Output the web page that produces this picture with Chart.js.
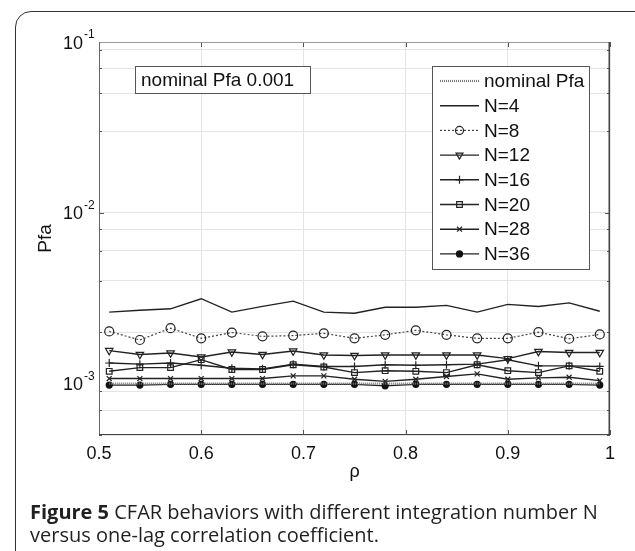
<!DOCTYPE html>
<html>
<head>
<meta charset="utf-8">
<script src="https://cdn.jsdelivr.net/npm/chart.js@4.4.1/dist/chart.umd.min.js"></script>
<style>
  html, body { margin: 0; padding: 0; background: #fff; }
  body { width: 635px; height: 551px; position: relative; overflow: hidden; }
  #frame { position: absolute; left: 15px; top: 11px; width: 700px; height: 600px;
           border: 1.5px solid #333; border-radius: 16px; }
  #wrap { position: absolute; left: 0; top: 0; width: 635px; height: 500px; }
  #caption { position: absolute; left: 30px; top: 500px; font-family: "Open Sans", Lato, sans-serif;
             font-size: 20px; line-height: 23px; color: #231f20; white-space: nowrap; }
  #caption b { font-weight: bold; }
</style>
</head>
<body>
<div id="frame"></div>
<div id="wrap"><canvas id="line-chart"></canvas></div>
<div id="caption"><b>Figure 5</b> CFAR behaviors with different integration number N<br>versus one-lag correlation coefficient.</div>
<script>
// x values (rho) and Pfa per integration number N
const rho = [0.51, 0.54, 0.57, 0.60, 0.63, 0.66, 0.69, 0.72, 0.75, 0.78, 0.81, 0.84, 0.87, 0.90, 0.93, 0.96, 0.99];
const nominal = [1e-3, 1e-3, 1e-3, 1e-3, 1e-3, 1e-3, 1e-3, 1e-3, 1e-3, 1e-3, 1e-3, 1e-3, 1e-3, 1e-3, 1e-3, 1e-3, 1e-3];
const pfaN4  = [2.62e-3, 2.69e-3, 2.74e-3, 3.14e-3, 2.62e-3, 2.83e-3, 3.04e-3, 2.62e-3, 2.58e-3, 2.80e-3, 2.80e-3, 2.87e-3, 2.62e-3, 2.91e-3, 2.83e-3, 2.97e-3, 2.65e-3];
const pfaN8  = [2.02e-3, 1.80e-3, 2.11e-3, 1.84e-3, 1.99e-3, 1.89e-3, 1.91e-3, 1.97e-3, 1.84e-3, 1.93e-3, 2.05e-3, 1.93e-3, 1.84e-3, 1.84e-3, 2.00e-3, 1.83e-3, 1.94e-3];
const pfaN12 = [1.56e-3, 1.48e-3, 1.51e-3, 1.43e-3, 1.53e-3, 1.48e-3, 1.55e-3, 1.47e-3, 1.46e-3, 1.47e-3, 1.47e-3, 1.47e-3, 1.47e-3, 1.40e-3, 1.54e-3, 1.52e-3, 1.52e-3];
const pfaN16 = [1.32e-3, 1.30e-3, 1.32e-3, 1.28e-3, 1.23e-3, 1.22e-3, 1.30e-3, 1.26e-3, 1.26e-3, 1.29e-3, 1.28e-3, 1.29e-3, 1.30e-3, 1.38e-3, 1.27e-3, 1.27e-3, 1.26e-3];
const pfaN20 = [1.18e-3, 1.24e-3, 1.24e-3, 1.38e-3, 1.21e-3, 1.21e-3, 1.29e-3, 1.25e-3, 1.16e-3, 1.19e-3, 1.18e-3, 1.16e-3, 1.29e-3, 1.19e-3, 1.16e-3, 1.27e-3, 1.18e-3];
const pfaN28 = [1.07e-3, 1.07e-3, 1.07e-3, 1.07e-3, 1.07e-3, 1.07e-3, 1.11e-3, 1.11e-3, 1.06e-3, 1.03e-3, 1.06e-3, 1.10e-3, 1.14e-3, 1.06e-3, 1.08e-3, 1.09e-3, 1.04e-3];
const pfaN36 = [0.98e-3, 0.98e-3, 0.99e-3, 0.99e-3, 0.99e-3, 0.99e-3, 0.99e-3, 0.99e-3, 0.99e-3, 0.97e-3, 0.99e-3, 0.99e-3, 0.99e-3, 0.99e-3, 0.99e-3, 0.99e-3, 0.98e-3];
const seriesLabels = ["nominal Pfa", "N=4", "N=8", "N=12", "N=16", "N=20", "N=28", "N=36"];
const xTicks = [0.5, 0.6, 0.7, 0.8, 0.9, 1];
const yMajor = [1e-3, 1e-2, 1e-1];
const yMin = 5e-4, yMax = 1e-1;

const FONT = "'Liberation Sans', Arial, sans-serif";
const pts = vals => rho.map((r, i) => ({x: r, y: vals[i]}));

// minor log ticks 1..9 per decade, plus 5e-4..9e-4
const yTicks = [];
[1e-4, 1e-3, 1e-2].forEach(d => { for (let m = 1; m <= 9; m++) { const v = +(m * d).toPrecision(3); if (v >= yMin && v <= yMax) yTicks.push(v); } });
yTicks.push(1e-1);

function ds(label, vals, extra) {
  return Object.assign({
    label: label, data: pts(vals), borderColor: '#222', borderWidth: 1.4,
    pointRadius: 0, pointBorderColor: '#222', pointBackgroundColor: 'rgba(255,255,255,0)',
    pointBorderWidth: 1.2, fill: false, tension: 0
  }, extra);
}

const datasets = [
  ds(seriesLabels[0], nominal, {borderColor: '#777', borderWidth: 2.2, borderDash: [1, 1]}),
  ds(seriesLabels[1], pfaN4, {}),
  ds(seriesLabels[2], pfaN8, {borderColor: '#444', borderWidth: 1.2, borderDash: [2, 2], pointStyle: 'circle', pointRadius: 4.5}),
  ds(seriesLabels[3], pfaN12, {pointStyle: 'triangle', pointRotation: 180, pointRadius: 4.3}),
  ds(seriesLabels[4], pfaN16, {pointStyle: 'cross', pointRadius: 4}),
  ds(seriesLabels[5], pfaN20, {pointStyle: 'rect', pointRadius: 4}),
  ds(seriesLabels[6], pfaN28, {pointStyle: 'crossRot', pointRadius: 3.5}),
  ds(seriesLabels[7], pfaN36, {pointStyle: 'circle', pointRadius: 3, pointBackgroundColor: '#111', pointBorderColor: '#111'})
];

function point(ctx, d, x, y, r) {
  if (!d.pointStyle) return;
  ctx.save();
  ctx.strokeStyle = d.pointBorderColor; ctx.fillStyle = d.pointBackgroundColor;
  ctx.lineWidth = d.pointBorderWidth; ctx.setLineDash([]);
  Chart.helpers.drawPoint(ctx, {pointStyle: d.pointStyle, radius: r, rotation: d.pointRotation || 0, borderWidth: d.pointBorderWidth}, x, y);
  ctx.restore();
}

const decor = {
  id: 'decor',
  afterDatasetsDraw(chart) {
    const {ctx, chartArea: a, scales: {x, y}} = chart;
    ctx.save();
    // inner ticks
    ctx.strokeStyle = '#555'; ctx.lineWidth = 1;
    y.ticks.forEach(t => {
      const py = Math.round(y.getPixelForValue(t.value)) + 0.5;
      const len = yMajor.includes(t.value) ? 5 : 3;
      ctx.beginPath();
      ctx.moveTo(a.left, py); ctx.lineTo(a.left + len, py);
      ctx.moveTo(a.right, py); ctx.lineTo(a.right - len, py);
      ctx.stroke();
    });
    x.ticks.forEach(t => {
      const px = Math.round(x.getPixelForValue(t.value)) + 0.5;
      ctx.beginPath();
      ctx.moveTo(px, a.bottom); ctx.lineTo(px, a.bottom - 5);
      ctx.moveTo(px, a.top); ctx.lineTo(px, a.top + 5);
      ctx.stroke();
    });
    // axes box
    ctx.strokeStyle = '#999';
    ctx.beginPath(); ctx.moveTo(a.left, a.top + 0.5); ctx.lineTo(a.right, a.top + 0.5); ctx.stroke();
    ctx.strokeStyle = '#666';
    ctx.beginPath(); ctx.moveTo(a.left + 0.5, a.top); ctx.lineTo(a.left + 0.5, a.bottom); ctx.stroke();
    ctx.strokeStyle = '#444';
    ctx.beginPath(); ctx.moveTo(a.left, a.bottom - 0.5); ctx.lineTo(a.right, a.bottom - 0.5); ctx.stroke();
    ctx.lineWidth = 1.5;
    ctx.beginPath(); ctx.moveTo(a.right - 0.75, a.top); ctx.lineTo(a.right - 0.75, a.bottom); ctx.stroke();

    // y labels as 10^k
    ctx.fillStyle = '#111';
    yMajor.forEach(v => {
      const py = y.getPixelForValue(v);
      const k = Math.round(Math.log10(v));
      ctx.font = '18px ' + FONT; ctx.textAlign = 'right'; ctx.textBaseline = 'alphabetic';
      ctx.fillText('10', 83, py + 6.5);
      ctx.font = '12px ' + FONT; ctx.textAlign = 'left';
      ctx.fillText(String(k), 84, py - 4);
    });

    // annotation box
    ctx.fillStyle = '#fff'; ctx.strokeStyle = '#555'; ctx.lineWidth = 1;
    ctx.fillRect(135, 66, 175, 27); ctx.strokeRect(135.5, 66.5, 175, 27);
    ctx.fillStyle = '#111'; ctx.font = '19px ' + FONT; ctx.textAlign = 'left'; ctx.textBaseline = 'middle';
    ctx.fillText('nominal Pfa 0.001', 141, 80.5);

    // legend
    const lx = 432, ly = 66, lw = 157, lh = 203, row = 24.7;
    ctx.fillStyle = '#fff'; ctx.fillRect(lx, ly, lw, lh);
    ctx.strokeStyle = '#555'; ctx.strokeRect(lx + 0.5, ly + 0.5, lw, lh);
    chart.data.datasets.forEach((d, i) => {
      const ry = 81 + i * row;
      ctx.save();
      ctx.strokeStyle = d.borderColor; ctx.lineWidth = d.borderWidth;
      ctx.setLineDash(d.borderDash || []);
      ctx.beginPath(); ctx.moveTo(440, ry); ctx.lineTo(479, ry); ctx.stroke();
      ctx.restore();
      point(ctx, d, 459.5, ry, Math.min(d.pointRadius, 4));
      ctx.fillStyle = '#111'; ctx.font = '19px ' + FONT; ctx.textAlign = 'left'; ctx.textBaseline = 'middle';
      ctx.fillText(d.label, 484, ry + 1);
    });
    ctx.restore();
  }
};

new Chart(document.getElementById("line-chart"), {
  type: 'line',
  data: { datasets: datasets },
  options: {
    responsive: true,
    maintainAspectRatio: false,
    animation: false,
    events: [],
    layout: { padding: { top: 42, right: 25, bottom: 0, left: 0 } },
    plugins: { legend: { display: false }, tooltip: { enabled: false } },
    scales: {
      x: {
        type: 'linear', min: 0.5, max: 1,
        afterFit: s => { s.height = 65; },
        afterBuildTicks: s => { s.ticks = xTicks.map(v => ({value: v})); },
        grid: { color: '#e4e4e4', drawTicks: false },
        border: { display: false },
        ticks: { padding: 8, color: '#111', font: { family: FONT, size: 18 },
                 callback: v => String(Math.round(v * 10) / 10) },
        title: { display: true, text: 'ρ', color: '#111', font: { family: FONT, size: 18 },
                 padding: { top: 0, bottom: 17 } }
      },
      y: {
        type: 'logarithmic', min: yMin, max: yMax,
        afterFit: s => { s.width = 99; },
        afterBuildTicks: s => { s.ticks = yTicks.map(v => ({value: v})); },
        grid: { color: '#e4e4e4', drawTicks: false },
        border: { display: false },
        ticks: { callback: () => '' },
        title: { display: true, text: 'Pfa', color: '#111', font: { family: FONT, size: 19 },
                 padding: { top: 34, bottom: 0 } }
      }
    }
  },
  plugins: [decor]
});
</script>
</body>
</html>
